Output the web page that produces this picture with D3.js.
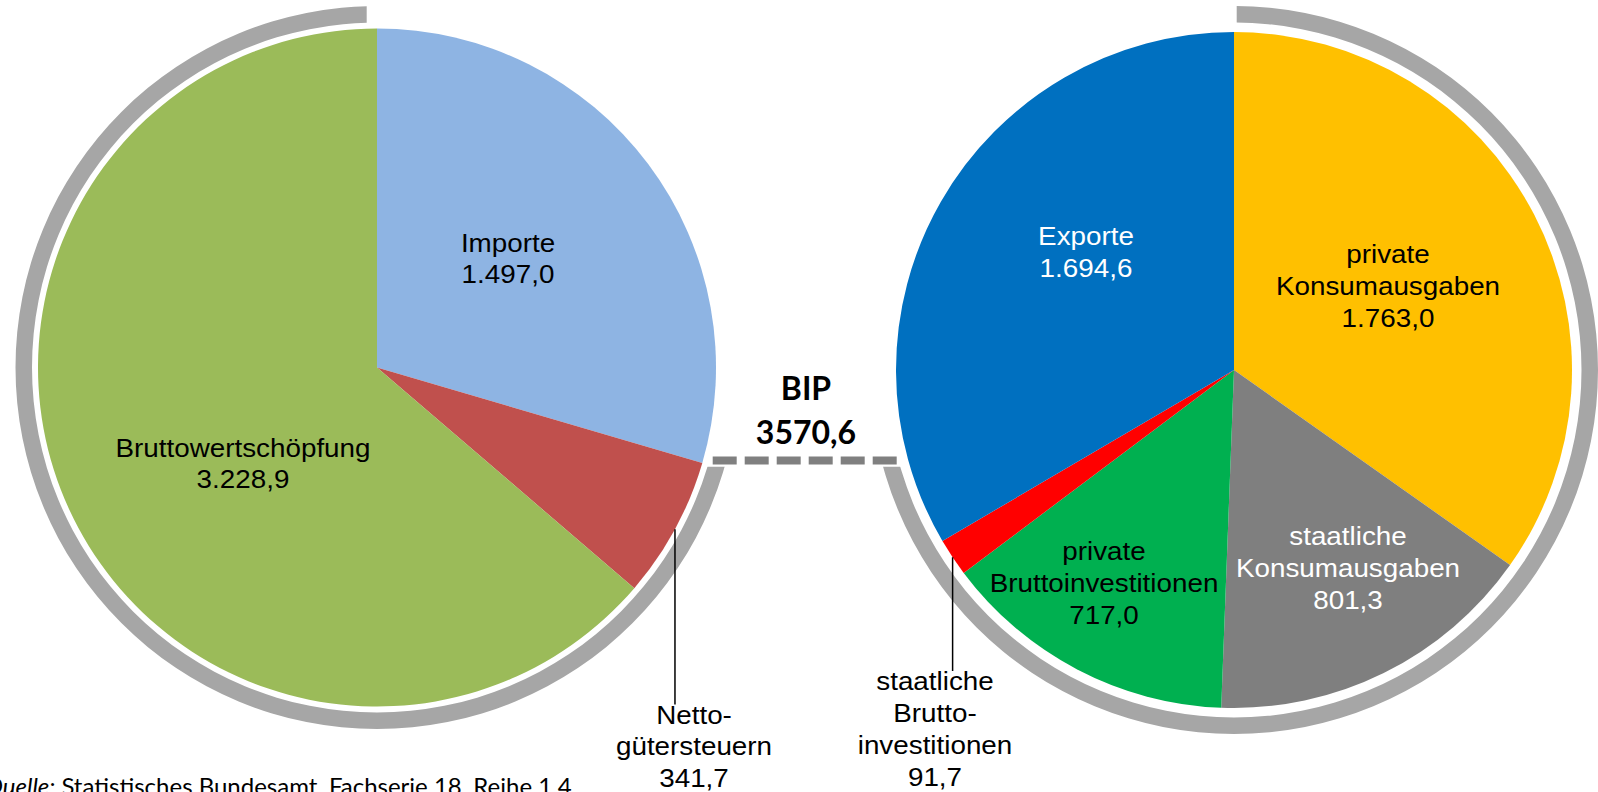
<!DOCTYPE html>
<html lang="de">
<head>
<meta charset="utf-8">
<script src="https://cdn.jsdelivr.net/npm/d3@7"></script>
<style>
  html, body { margin: 0; padding: 0; background: #ffffff; }
  svg { display: block; }
</style>
</head>
<body>
<svg id="chart" width="1598" height="792"></svg>
<script>
// Entstehung des BIP (links) und Verwendung (rechts), Mrd. Euro
const leftCategories = ["Importe", "Nettogütersteuern", "Bruttowertschöpfung"];
const leftValues = [1497.0, 341.7, 3228.9];
const leftLabelLines = [["Importe"], ["Netto-", "gütersteuern"], ["Bruttowertschöpfung"]];
const leftColors = ["#8EB4E3", "#C0504D", "#9BBB59"];
const leftTextColors = ["#000000", "#000000", "#000000"];

const rightCategories = ["private Konsumausgaben", "staatliche Konsumausgaben",
  "private Bruttoinvestitionen", "staatliche Bruttoinvestitionen", "Exporte"];
const rightValues = [1763.0, 801.3, 717.0, 91.7, 1694.6];
const rightLabelLines = [["private", "Konsumausgaben"], ["staatliche", "Konsumausgaben"],
  ["private", "Bruttoinvestitionen"], ["staatliche", "Brutto-", "investitionen"], ["Exporte"]];
const rightColors = ["#FFC000", "#7F7F7F", "#00B050", "#FF0000", "#0070C0"];
const rightTextColors = ["#000000", "#FFFFFF", "#000000", "#000000", "#FFFFFF"];

const bipTitle = "BIP";
const bipValue = 3570.6;
const sourceLead = "Quelle:";
const sourceText = " Statistisches Bundesamt, Fachserie 18, Reihe 1.4";

// Label placement relative to each pie centre (first baseline), plus leader flag
const leftLabelLayout = [
  { dx: 131, dy: -116, leader: false },
  { dx: 317, dy: 356, leader: true },
  { dx: -134, dy: 89, leader: false }
];
const rightLabelLayout = [
  { dx: 154, dy: -107, leader: false },
  { dx: 114, dy: 175, leader: false },
  { dx: -130, dy: 190, leader: false },
  { dx: -299, dy: 320, leader: true },
  { dx: -148, dy: -125, leader: false }
];

const de = d3.formatLocale({ decimal: ",", thousands: ".", grouping: [3], currency: ["", " €"] });
const fmtValue = de.format(",.1f");
const fmtBip = d3.formatLocale({ decimal: ",", thousands: "", grouping: [3], currency: ["", ""] }).format(".1f");

const svg = d3.select("#chart");
const LINE = 32;
const FONT = "'Liberation Sans', Arial, sans-serif";

const pie = d3.pie().sort(null).value(d => d);

function drawPie(cfg) {
  const g = svg.append("g").attr("transform", `translate(${cfg.cx},${cfg.cy})`);
  const arcs = pie(cfg.values);
  const arcGen = d3.arc().innerRadius(0).outerRadius(cfg.r);

  // Grey ring around the pie, cut flat at its ends
  const clipId = cfg.id + "-clip";
  const cp = svg.append("defs").append("clipPath").attr("id", clipId);
  cfg.ringClip.forEach(rc => cp.append("rect")
    .attr("x", rc.x - cfg.cx).attr("y", rc.y - cfg.cy)
    .attr("width", rc.w).attr("height", rc.h));
  g.append("path")
    .attr("d", d3.arc().innerRadius(cfg.ringIn).outerRadius(cfg.ringOut)
      .startAngle(cfg.ringStart).endAngle(cfg.ringEnd)())
    .attr("fill", "#A6A6A6")
    .attr("clip-path", `url(#${clipId})`);

  g.selectAll("path.slice").data(arcs).join("path")
    .attr("class", "slice")
    .attr("d", arcGen)
    .attr("fill", (d, i) => cfg.colors[i]);

  // Leader lines for the small slices labelled outside
  arcs.forEach((d, i) => {
    const lay = cfg.layout[i];
    if (!lay.leader) return;
    const mid = (d.startAngle + d.endAngle) / 2;
    const ex = cfg.r * Math.sin(mid), ey = -cfg.r * Math.cos(mid);
    g.append("line")
      .attr("x1", ex).attr("y1", ey)
      .attr("x2", ex).attr("y2", lay.dy - 19)
      .attr("stroke", "#000").attr("stroke-width", 1.5);
  });

  // Category + value labels
  arcs.forEach((d, i) => {
    const lay = cfg.layout[i];
    const lines = cfg.labels[i].concat([fmtValue(cfg.values[i])]);
    const lg = g.append("g").attr("transform", `translate(${lay.dx},${lay.dy}) scale(1.07,1)`);
    const t = lg.append("text")
      .attr("text-anchor", "middle")
      .attr("font-family", FONT)
      .attr("font-size", 26)
      .attr("fill", cfg.textColors[i]);
    lines.forEach((ln, k) => t.append("tspan").attr("x", 0).attr("y", k * LINE).text(ln));
  });
  return g;
}

drawPie({
  id: "left", cx: 377, cy: 367.5, r: 339,
  values: leftValues, colors: leftColors, labels: leftLabelLines,
  textColors: leftTextColors, layout: leftLabelLayout,
  ringIn: 345, ringOut: 361.5, ringStart: Math.PI / 2, ringEnd: 2 * Math.PI,
  ringClip: [{ x: 0, y: 0, w: 366.7, h: 792 }, { x: 0, y: 466.7, w: 800, h: 400 }]
});

drawPie({
  id: "right", cx: 1234, cy: 370, r: 338,
  values: rightValues, colors: rightColors, labels: rightLabelLines,
  textColors: rightTextColors, layout: rightLabelLayout,
  ringIn: 347.5, ringOut: 364, ringStart: 0, ringEnd: 1.5 * Math.PI,
  ringClip: [{ x: 1236.7, y: 0, w: 400, h: 792 }, { x: 800, y: 466.7, w: 800, h: 400 }]
});

// Dashed bridge between the two pies
svg.append("line")
  .attr("x1", 712.7).attr("x2", 896.7)
  .attr("y1", 460.5).attr("y2", 460.5)
  .attr("stroke", "#808080").attr("stroke-width", 8)
  .attr("stroke-dasharray", "24 8");

// BIP total
const bip = svg.append("text")
  .attr("text-anchor", "middle")
  .attr("font-family", "Lato, 'Open Sans', sans-serif")
  .attr("font-weight", "bold")
  .attr("font-size", 32)
  .attr("fill", "#000");
bip.append("tspan").attr("x", 806).attr("y", 400).text(bipTitle);
bip.append("tspan").attr("x", 806).attr("y", 444).text(fmtBip(bipValue));

// Source note
const src = svg.append("text")
  .attr("x", -15).attr("y", 795)
  .attr("font-family", "Lato, 'Open Sans', sans-serif")
  .attr("font-size", 24)
  .attr("fill", "#000");
src.append("tspan").attr("font-style", "italic").text(sourceLead);
src.append("tspan").text(sourceText);
</script>
</body>
</html>
